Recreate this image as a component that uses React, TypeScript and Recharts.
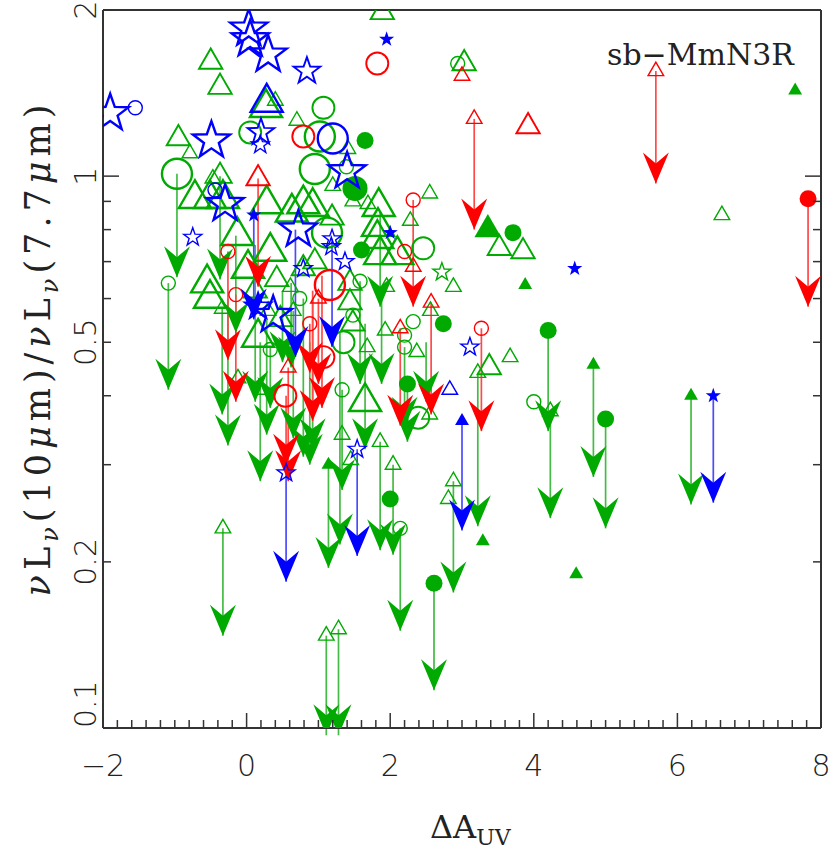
import React from 'react';
import { ScatterChart, Scatter, XAxis, YAxis, ReferenceLine } from 'recharts';

// rows are [ΔA_UV, νLν(10μm)/νLν(7.7μm), size class 1..3]
const greenTriOpen = [
  [-0.5, 1.61, 2], [-0.37, 1.45, 2], [1.89, 1.98, 2], [3.03, 1.6, 2], [0.27, 1.33, 3], [0.4, 1.37, 1],
  [0.7, 1.26, 1], [-0.95, 1.17, 2], [-0.79, 1.1, 1], [1.41, 1.12, 1], [1.2, 0.96, 1], [2.55, 0.93, 1],
  [-0.72, 0.91, 3], [-0.51, 0.91, 3], [-0.37, 1.0, 2], [-0.33, 0.91, 3], [-0.47, 0.99, 1], [-0.13, 0.78, 3],
  [0.28, 0.89, 3], [0.63, 0.86, 3], [0.79, 0.89, 3], [0.92, 0.88, 3], [1.19, 0.84, 2], [0.33, 0.73, 3],
  [1.84, 0.88, 3], [1.83, 0.81, 3], [1.82, 0.77, 3], [1.86, 0.72, 3], [2.1, 0.72, 3], [1.48, 0.9, 1],
  [1.69, 0.89, 1], [2.28, 0.83, 1], [2.88, 0.63, 1], [6.62, 0.85, 1], [3.52, 0.74, 2], [3.85, 0.73, 2],
  [3.22, 0.44, 1], [3.38, 0.45, 2], [3.67, 0.47, 1], [2.88, 0.28, 1], [2.81, 0.26, 1], [4.23, 0.375, 1],
  [2.04, 0.3, 1], [1.45, 0.306, 1], [-0.33, 0.23, 1], [1.11, 0.147, 1], [1.28, 0.151, 1], [1.65, 0.39, 3],
  [1.48, 0.54, 2], [1.93, 0.525, 1], [2.37, 0.48, 1], [2.56, 0.57, 1], [1.33, 0.34, 1], [1.86, 0.33, 1],
  [-0.34, 0.575, 1], [-0.12, 0.43, 1], [0.21, 0.41, 1], [0.16, 0.51, 3], [-0.51, 0.6, 3], [0.42, 0.65, 2],
  [0.61, 0.63, 1], [0.79, 0.68, 2], [0.95, 0.7, 2], [1.44, 0.64, 2], [1.44, 0.59, 2], [0.65, 0.57, 1],
  [0.47, 0.55, 2], [1.68, 0.49, 1], [1.95, 0.63, 1], [0.3, 0.57, 1], [-0.55, 0.64, 3], [0.02, 0.68, 3],
  [0.12, 0.62, 2], [2.55, 0.37, 1],
];
const greenCircOpen = [
  [2.94, 1.6, 1], [1.07, 1.33, 2], [1.02, 1.18, 3], [0.05, 1.2, 2], [0.95, 1.03, 3], [-0.97, 1.01, 3],
  [1.39, 1.04, 1], [1.12, 0.79, 3], [2.46, 0.74, 2], [1.58, 0.645, 1], [-1.09, 0.64, 1], [0.33, 0.485, 1],
  [2.32, 0.545, 1], [2.2, 0.515, 1], [2.2, 0.49, 1], [1.33, 0.41, 1], [2.39, 0.365, 2], [2.14, 0.23, 1],
  [4.0, 0.39, 1], [1.35, 0.5, 2], [0.74, 0.6, 1], [1.48, 0.56, 1],
];
const greenStarOpen = [[2.72, 0.67, 1]];
const greenTriFill = [
  [7.64, 1.43, 1], [3.36, 0.8, 3], [3.88, 0.635, 1], [4.83, 0.455, 1], [6.19, 0.4, 1], [4.59, 0.19, 1],
  [3.29, 0.218, 1], [1.14, 0.3, 1],
];
const greenCircFill = [
  [1.65, 1.16, 2], [1.51, 0.95, 3], [1.6, 0.735, 2], [3.71, 0.79, 2], [2.74, 0.54, 2], [4.2, 0.525, 2],
  [5.0, 0.363, 2], [2.24, 0.42, 2], [2.0, 0.26, 2], [2.61, 0.183, 2],
];
const redTriOpen = [
  [3.0, 1.52, 1], [3.17, 1.27, 1], [3.92, 1.23, 2], [5.7, 1.55, 1], [0.16, 0.99, 2], [2.32, 0.685, 1],
  [2.57, 0.59, 1], [2.14, 0.53, 1], [0.58, 0.45, 1], [1.0, 0.6, 1],
];
const redCircOpen = [
  [1.82, 1.6, 2], [0.79, 1.18, 2], [2.32, 0.905, 1], [2.2, 0.73, 1], [-0.26, 0.73, 1], [-0.15, 0.61, 1],
  [1.16, 0.635, 3], [3.27, 0.53, 1], [0.54, 0.4, 2], [0.88, 0.54, 1], [1.07, 0.47, 2],
];
const redCircFill = [[7.82, 0.91, 2]];
const blueStarOpen = [
  [-1.9, 1.3, 3], [0.03, 1.85, 3], [0.05, 1.77, 3], [0.3, 1.66, 3], [0.84, 1.55, 2], [-0.49, 1.16, 3],
  [0.2, 1.2, 2], [0.19, 1.14, 1], [1.4, 1.02, 3], [-0.3, 0.89, 3], [-0.75, 0.775, 1], [0.72, 0.8, 3],
  [1.19, 0.77, 1], [1.18, 0.745, 1], [1.37, 0.7, 1], [0.37, 0.56, 3], [3.11, 0.49, 1], [0.55, 0.29, 1],
  [1.54, 0.32, 1], [0.16, 0.58, 2], [0.79, 0.68, 1],
];
const blueCircOpen = [[-1.55, 1.33, 1], [1.2, 1.17, 3], [-0.44, 0.944, 1]];
const blueTriOpen = [[0.28, 1.36, 3], [2.83, 0.41, 1]];
const blueStarFill = [[1.95, 1.77, 1], [4.57, 0.68, 1], [6.5, 0.4, 1], [0.1, 0.85, 1], [2.0, 0.79, 1]];
const blueTriFill = [[3.0, 0.36, 1]];

// upper limits: [ΔA_UV, ratio at the symbol, limit]
const greenLimits = [
  [-0.97, 1.01, 0.656], [-1.09, 0.64, 0.41], [-0.37, 1.0, 0.65], [-0.34, 0.575, 0.37], [-0.26, 0.6, 0.325],
  [-0.33, 0.23, 0.147], [-0.15, 0.78, 0.52], [0.12, 0.75, 0.39], [0.19, 0.5, 0.28], [0.33, 0.49, 0.38],
  [0.28, 0.55, 0.34], [0.5, 0.62, 0.46], [0.62, 0.64, 0.45], [0.65, 0.57, 0.335], [0.79, 0.6, 0.31],
  [0.88, 0.5, 0.3], [0.92, 0.6, 0.32], [1.14, 0.3, 0.195], [1.33, 0.41, 0.27], [1.3, 0.52, 0.215],
  [1.11, 0.147, 0.097], [1.28, 0.151, 0.097], [1.58, 0.645, 0.42], [1.86, 0.86, 0.58], [1.88, 0.6, 0.42],
  [1.65, 0.54, 0.32], [1.86, 0.33, 0.21], [2.04, 0.3, 0.206], [2.2, 0.49, 0.35], [2.14, 0.23, 0.15],
  [2.24, 0.42, 0.33], [2.5, 0.5, 0.39], [2.61, 0.183, 0.117], [2.88, 0.28, 0.176], [3.22, 0.44, 0.232],
  [4.2, 0.525, 0.345], [4.23, 0.375, 0.24], [4.83, 0.455, 0.285], [5.0, 0.363, 0.23], [6.19, 0.4, 0.254],
];
const redLimits = [
  [3.17, 1.27, 0.8], [5.7, 1.55, 0.97], [7.82, 0.91, 0.58], [0.16, 0.99, 0.63], [2.32, 0.905, 0.58],
  [2.57, 0.59, 0.37], [2.14, 0.53, 0.353], [3.27, 0.53, 0.345], [-0.26, 0.73, 0.464], [-0.15, 0.61, 0.39],
  [0.58, 0.45, 0.28], [0.55, 0.4, 0.3], [0.88, 0.54, 0.44], [0.92, 0.62, 0.36], [1.0, 0.6, 0.42],
  [1.05, 0.66, 0.38],
];
const blueLimits = [
  [6.5, 0.4, 0.256], [0.1, 0.85, 0.55], [3.0, 0.36, 0.228], [1.19, 0.77, 0.49], [0.55, 0.29, 0.184],
  [1.54, 0.32, 0.205], [0.68, 0.8, 0.47],
];

const xTicks = Array.from({ length: 51 }, (_, i) => Math.round((-2 + i * 0.2) * 10) / 10);
const yTicks = [0.1, 0.2, 0.3, 0.4, 0.5, 0.6, 0.7, 0.8, 0.9, 1, 2];
const yLabelled = [0.1, 0.2, 0.5, 1, 2];

const GREEN = '#00aa00';
const RED = '#ff0000';
const BLUE = '#0000ff';
const LINE: Record<string, string> = { [GREEN]: '#44bb44', [RED]: '#ff4a4a', [BLUE]: '#4a4aff' };
const AX = '#333333';

const tickFont = { fontFamily: "'DejaVu Sans', sans-serif", fontWeight: 200, fontSize: 30, fill: '#222' };
const serif = "'DejaVu Serif', serif";

const rows = (r: number[][]) => r.map(([x, y, b]) => ({ x, y, b }));
const tips = (r: number[][]) => r.map(([x, , t]) => ({ x, y: t }));

const R_OPEN: Record<string, number[]> = { tri: [0, 9, 13.5, 18.5], circ: [0, 7, 11, 15], star: [0, 9.5, 14, 19.5] };
const R_FILL: Record<string, number[]> = { tri: [0, 8, 12, 15.5], circ: [0, 6.5, 8.5, 12.5], star: [0, 8, 11, 14] };

function starPoints(cx: number, cy: number, r: number) {
  const pts: string[] = [];
  for (let i = 0; i < 10; i++) {
    const rr = i % 2 === 0 ? r : r * 0.4;
    const a = -Math.PI / 2 + (i * Math.PI) / 5;
    pts.push(`${cx + rr * Math.cos(a)},${cy + rr * Math.sin(a)}`);
  }
  return pts.join(' ');
}

const marker = (kind: string, color: string, filled: boolean) => (p: any) => {
  const { cx, cy, payload } = p;
  if (cx == null || cy == null) return <g />;
  const r = (filled ? R_FILL : R_OPEN)[kind][payload.b];
  const sw = payload.b === 1 ? 1.4 : payload.b === 2 ? 1.9 : 2.4;
  const st = { fill: filled ? color : 'none', stroke: color, strokeWidth: filled ? 0 : sw };
  if (kind === 'circ') return <circle cx={cx} cy={cy} r={r} {...st} />;
  if (kind === 'tri') {
    const pts = `${cx},${cy - r} ${cx - r * 0.866},${cy + r * 0.5} ${cx + r * 0.866},${cy + r * 0.5}`;
    return <polygon points={pts} {...st} strokeLinejoin="miter" />;
  }
  return <polygon points={starPoints(cx, cy, r)} {...st} />;
};

const arrowHead = (color: string) => (p: any) => {
  const { cx, cy } = p;
  if (cx == null || cy == null) return <g />;
  return <polygon points={`${cx},${cy} ${cx - 13},${cy - 31} ${cx},${cy - 20} ${cx + 13},${cy - 31}`} fill={color} />;
};

const fmtX = (v: number) => (v < 0 ? `\u2212${-v}` : `${v}`);

const XTick = (props: any) => {
  const { x, y, payload, top } = props;
  const v = payload.value;
  const major = Math.abs(v / 2 - Math.round(v / 2)) < 1e-6;
  const len = major ? 15 : 8;
  const dir = top ? 1 : -1;
  return (
    <g>
      <line x1={x} y1={y} x2={x} y2={y + dir * len} stroke={AX} strokeWidth={1.5} />
      {!top && major && (
        <text x={x} y={y + 48} textAnchor="middle" style={tickFont}>
          {fmtX(v)}
        </text>
      )}
    </g>
  );
};

const YTick = (props: any) => {
  const { x, y, payload, right } = props;
  const v = payload.value;
  const len = v === 1 ? 16 : 8;
  const dir = right ? -1 : 1;
  const lx = x - 7;
  const anchor = v === 0.1 ? 'start' : 'middle';
  return (
    <g>
      <line x1={x} y1={y} x2={x + dir * len} y2={y} stroke={AX} strokeWidth={1.5} />
      {!right && yLabelled.includes(v) && (
        <text x={lx} y={y} transform={`rotate(-90 ${lx} ${y})`} textAnchor={anchor} style={tickFont}>
          {v}
        </text>
      )}
    </g>
  );
};

const groups = [
  { color: GREEN, limits: greenLimits, sets: [
    { d: greenTriOpen, k: 'tri', f: false }, { d: greenCircOpen, k: 'circ', f: false }, { d: greenStarOpen, k: 'star', f: false },
    { d: greenTriFill, k: 'tri', f: true }, { d: greenCircFill, k: 'circ', f: true },
  ] },
  { color: RED, limits: redLimits, sets: [
    { d: redTriOpen, k: 'tri', f: false }, { d: redCircOpen, k: 'circ', f: false }, { d: redCircFill, k: 'circ', f: true },
  ] },
  { color: BLUE, limits: blueLimits, sets: [
    { d: blueStarOpen, k: 'star', f: false }, { d: blueCircOpen, k: 'circ', f: false }, { d: blueTriOpen, k: 'tri', f: false },
    { d: blueStarFill, k: 'star', f: true }, { d: blueTriFill, k: 'tri', f: true },
  ] },
];

export default function App() {
  return (
    <div style={{ position: 'absolute', left: 0, top: 0, width: 830, height: 852, background: '#fff' }}>
      <ScatterChart width={830} height={852} margin={{ top: 9, right: 8, left: 33, bottom: 64 }}>
        <XAxis xAxisId="b" type="number" dataKey="x" domain={[-2, 8]} ticks={xTicks} interval={0} height={60}
          tickSize={0} tickMargin={0} tickLine={false} axisLine={{ stroke: AX, strokeWidth: 2 }} tick={<XTick />} allowDataOverflow />
        <XAxis xAxisId="t" type="number" orientation="top" domain={[-2, 8]} ticks={xTicks} interval={0} height={1}
          tickSize={0} tickMargin={0} tickLine={false} axisLine={{ stroke: AX, strokeWidth: 2 }} tick={<XTick top />} allowDataOverflow />
        <YAxis yAxisId="l" type="number" dataKey="y" scale="log" domain={[0.1, 2]} ticks={yTicks} interval={0} width={70}
          tickSize={0} tickMargin={0} tickLine={false} axisLine={{ stroke: AX, strokeWidth: 2 }} tick={<YTick />} allowDataOverflow />
        <YAxis yAxisId="r" type="number" orientation="right" scale="log" domain={[0.1, 2]} ticks={yTicks} interval={0} width={1}
          tickSize={0} tickMargin={0} tickLine={false} axisLine={{ stroke: AX, strokeWidth: 2 }} tick={<YTick right />} allowDataOverflow />
        {groups.map((g, gi) => (
          <React.Fragment key={gi}>
            {g.limits.map(([x, y0, y1], i) => (
              <ReferenceLine key={`l${gi}-${i}`} xAxisId="b" yAxisId="l" ifOverflow="visible"
                segment={[{ x, y: y0 }, { x, y: y1 }]} stroke={LINE[g.color]} strokeWidth={1.7} />
            ))}
            <Scatter xAxisId="b" yAxisId="l" data={tips(g.limits)} shape={arrowHead(g.color)} isAnimationActive={false} />
            {g.sets.map((s, si) => (
              <Scatter key={si} xAxisId="b" yAxisId="l" data={rows(s.d)} shape={marker(s.k, g.color, s.f)} isAnimationActive={false} />
            ))}
          </React.Fragment>
        ))}
      </ScatterChart>
      <svg width={830} height={852} style={{ position: 'absolute', left: 0, top: 0, pointerEvents: 'none' }}>
        <text x={607} y={65} style={{ fontFamily: serif, fontSize: 30, fill: '#222' }}>sb{'\u2212'}MmN3R</text>
        <text x={430} y={838} style={{ fontFamily: serif, fontSize: 32, fill: '#222' }}>
          {'\u0394A'}<tspan dy={7} fontSize={22}>UV</tspan>
        </text>
        <text transform="rotate(-90)" x={-348} y={50} textAnchor="middle" style={{ fontFamily: serif, fontSize: 35, fill: '#222', letterSpacing: 5 }}>
          <tspan fontStyle="italic">{'\u03bd'}</tspan>L<tspan dy={8} fontSize={24} fontStyle="italic">{'\u03bd'}</tspan>
          <tspan dy={-8}>(10</tspan><tspan fontStyle="italic">{'\u03bc'}</tspan>m)/<tspan fontStyle="italic">{'\u03bd'}</tspan>L
          <tspan dy={8} fontSize={24} fontStyle="italic">{'\u03bd'}</tspan>
          <tspan dy={-8}>(7.7</tspan><tspan fontStyle="italic">{'\u03bc'}</tspan>m)
        </text>
      </svg>
    </div>
  );
}
